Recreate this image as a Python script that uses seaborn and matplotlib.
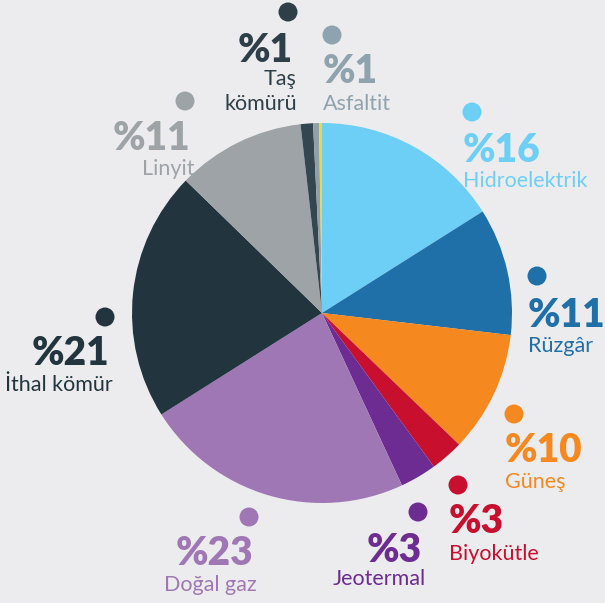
import seaborn as sns
import matplotlib.pyplot as plt
from matplotlib.patches import Circle

# share of installed capacity, read clockwise from 12 o'clock
sources = ["Hidroelektrik", "Rüzgâr", "Güneş", "Biyokütle", "Jeotermal",
           "Doğal gaz", "İthal kömür", "Linyit", "Taş\nkömürü", "Asfaltit", "Diğer"]
shares = [16.0, 10.8, 10.3, 2.8, 3.1, 22.9, 21.2, 10.9, 1.05, 0.5, 0.25]
pct_labels = ["%16", "%11", "%10", "%3", "%3", "%23", "%21", "%11", "%1", "%1", None]
colors = ["#6DCFF6", "#1F6FA8", "#F5891F", "#C8102E", "#6C2C91",
          "#A077B5", "#22353F", "#9EA3A8", "#34464F", "#8FA0AA", "#E3DC4A"]
text_colors = ["#6DCFF6", "#1F6FA8", "#F5891F", "#C8102E", "#6C2C91",
               "#A077B5", "#22353F", "#9EA3A8", "#2E3F48", "#8FA3AE", None]

W, H = 605, 603
BG = "#ECECEE"

# label layout in pixels: dot x, dot y, text x, pct baseline, name baseline, align
layout = [
    (472, 112, 463, 162, 187, "left"),
    (537, 276, 528, 327, 352, "left"),
    (514, 414, 505, 462, 488, "left"),
    (458, 485, 449, 533, 560, "left"),
    (418, 512, 426, 562, 585, "right"),
    (249, 517, 257, 565, 591, "right"),
    (105, 317, 113, 365, 391, "right"),
    (185, 101, 194, 150, 175, "right"),
    (288, 12, 297, 62, 85, "right"),
    (332, 35, 323, 83, 110, "left"),
]


def main():
    sns.set_theme(style="white")
    plt.rcParams["font.family"] = ["Lato", "DejaVu Sans"]

    fig = plt.figure(figsize=(W / 100, H / 100), dpi=100, facecolor=BG)
    ax = fig.add_axes([0, 0, 1, 1])
    ax.set_facecolor(BG)

    ax.pie(shares, colors=colors, startangle=90, counterclock=False,
           center=(322, H - 313), radius=190,
           wedgeprops=dict(linewidth=0))
    ax.set_xlim(0, W)
    ax.set_ylim(0, H)
    ax.set_aspect("auto")
    ax.axis("off")

    for i, (dx, dy, tx, pb, nb, ha) in enumerate(layout):
        c = text_colors[i]
        ax.add_patch(Circle((dx, H - dy), 9.5, color=c, lw=0))
        px = tx - 4 if ha == "right" else tx
        ax.text(px, H - pb, pct_labels[i], color=c, fontsize=28,
                fontweight="heavy", ha=ha, va="baseline")
        name = sources[i]
        if "\n" in name:
            first, second = name.split("\n")
            ax.text(tx, H - nb, first, color=c, fontsize=15.5, ha=ha, va="baseline")
            ax.text(tx, H - nb - 25, second, color=c, fontsize=15.5, ha=ha, va="baseline")
        else:
            ax.text(tx, H - nb, name, color=c, fontsize=15.5, ha=ha, va="baseline")

    fig.savefig("out.png", dpi=100, facecolor=BG)


if __name__ == "__main__":
    main()
